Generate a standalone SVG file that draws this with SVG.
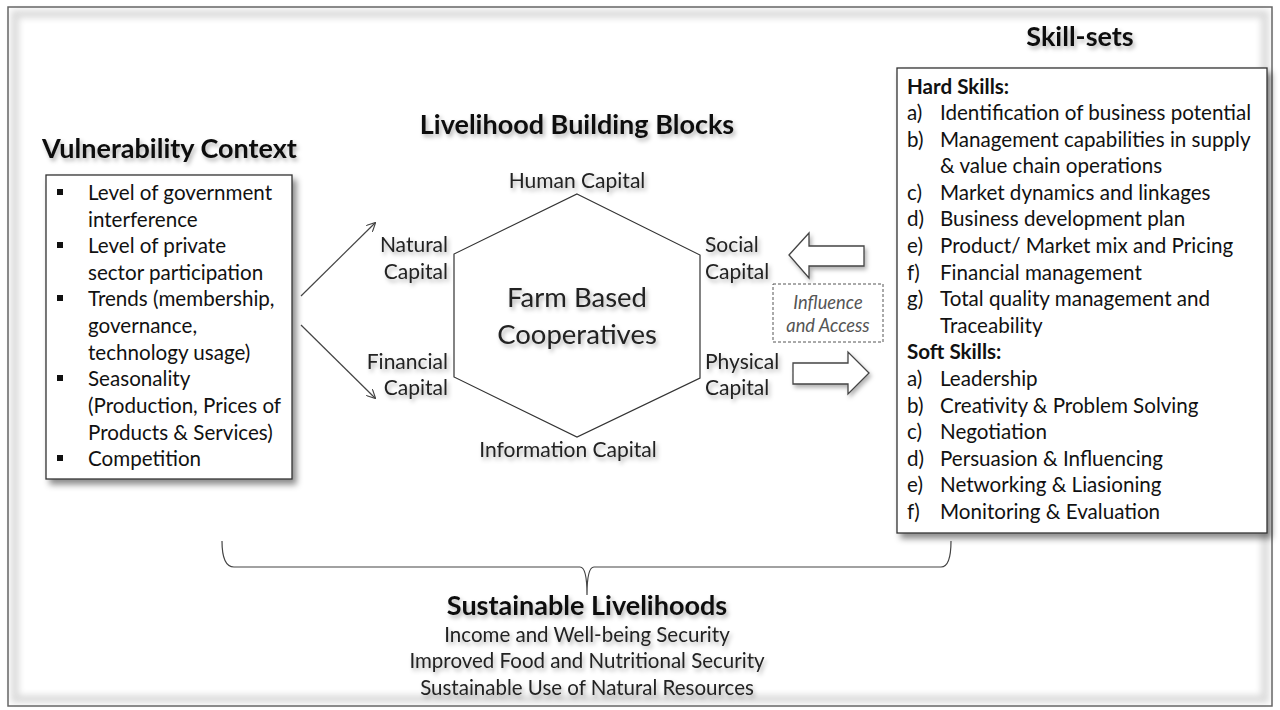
<svg xmlns="http://www.w3.org/2000/svg" width="1280" height="710" viewBox="0 0 1280 710">
  <defs>
    <style>
      text { font-family: Lato, "Open Sans", "Liberation Sans", sans-serif; fill: #111; }
      .title { font-weight: bold; font-size: 27px; }
      .body { font-size: 20.6px; }
      .hex { font-size: 21px; fill: #222; }
      .center { font-size: 27.5px; fill: #222; }
      .note { font-size: 18.3px; font-style: italic; fill: #555; }
      .out { font-size: 20.5px; fill: #222; }
      .box { fill: #fff; stroke: #333; stroke-width: 1.3; }
      .line { fill: none; stroke: #444; stroke-width: 1.2; }
      .blk { fill: #fff; stroke: #444; stroke-width: 1.3; }
    </style>
    <filter id="tshadow" x="-10%" y="-30%" width="130%" height="180%">
      <feDropShadow dx="2" dy="3" stdDeviation="2" flood-color="#000" flood-opacity="0.3"/>
    </filter>
    <filter id="bshadow" x="-10%" y="-10%" width="130%" height="130%">
      <feDropShadow dx="4" dy="5" stdDeviation="3" flood-color="#000" flood-opacity="0.45"/>
    </filter>
    <filter id="haze" x="-5%" y="-5%" width="110%" height="110%">
      <feGaussianBlur stdDeviation="3"/>
    </filter>
    <marker id="vee" viewBox="0 0 10 10" refX="9" refY="5" markerWidth="9" markerHeight="9" orient="auto" markerUnits="userSpaceOnUse">
      <path d="M0,0 L10,5 L0,10" fill="none" stroke="#444" stroke-width="1.3"/>
    </marker>
  </defs>

  <!-- page and frame -->
  <rect x="0" y="0" width="1280" height="710" fill="#fff"/>
  <rect x="15" y="14" width="1250" height="685" fill="none" stroke="#dcdcdc" stroke-width="8" filter="url(#haze)"/>
  <rect x="8" y="7" width="1264" height="699" fill="none" stroke="#666" stroke-width="1.5"/>

  <!-- Vulnerability context -->
  <g id="vulnerability">
    <text class="title" x="42" y="158" filter="url(#tshadow)">Vulnerability Context</text>
    <rect class="box" x="46" y="175" width="246" height="304" filter="url(#bshadow)"/>
    <g>
      <rect x="57" y="189" width="6" height="6" fill="#111"/>
      <text class="body" x="88" y="200">Level of government</text>
      <text class="body" x="88" y="227">interference</text>
      <rect x="57" y="242" width="6" height="6" fill="#111"/>
      <text class="body" x="88" y="253">Level of private</text>
      <text class="body" x="88" y="280">sector participation</text>
      <rect x="57" y="295" width="6" height="6" fill="#111"/>
      <text class="body" x="88" y="306">Trends (membership,</text>
      <text class="body" x="88" y="333">governance,</text>
      <text class="body" x="88" y="360">technology usage)</text>
      <rect x="57" y="375" width="6" height="6" fill="#111"/>
      <text class="body" x="88" y="386">Seasonality</text>
      <text class="body" x="88" y="413">(Production, Prices of</text>
      <text class="body" x="88" y="440">Products &amp; Services)</text>
      <rect x="57" y="455" width="6" height="6" fill="#111"/>
      <text class="body" x="88" y="466">Competition</text>
    </g>
  </g>

  <!-- Livelihood building blocks -->
  <g id="building-blocks">
    <text class="title" x="577" y="134" text-anchor="middle" filter="url(#tshadow)">Livelihood Building Blocks</text>
    <polygon points="577,194 700,255 700,378 577,437 454,377 454,254" fill="none" stroke="#333" stroke-width="1.2"/>
    <g filter="url(#tshadow)">
      <text class="hex" x="577" y="188" text-anchor="middle">Human Capital</text>
      <text class="hex" x="448" y="252" text-anchor="end">Natural</text>
      <text class="hex" x="448" y="279" text-anchor="end">Capital</text>
      <text class="hex" x="448" y="369" text-anchor="end">Financial</text>
      <text class="hex" x="448" y="395" text-anchor="end">Capital</text>
      <text class="hex" x="705" y="252">Social</text>
      <text class="hex" x="705" y="279">Capital</text>
      <text class="hex" x="705" y="369">Physical</text>
      <text class="hex" x="705" y="395">Capital</text>
      <text class="hex" x="568" y="457" text-anchor="middle">Information Capital</text>
      <text class="center" x="577" y="307" text-anchor="middle">Farm Based</text>
      <text class="center" x="577" y="344" text-anchor="middle">Cooperatives</text>
    </g>
  </g>

  <!-- Influence and access -->
  <g id="influence">
    <rect x="773" y="284" width="110" height="58" fill="#fff" stroke="#555" stroke-width="1" stroke-dasharray="3,2"/>
    <text class="note" x="828" y="309" text-anchor="middle">Influence</text>
    <text class="note" x="828" y="332" text-anchor="middle">and Access</text>
  </g>

  <!-- Skill-sets -->
  <g id="skill-sets">
    <text class="title" x="1080" y="46" text-anchor="middle" filter="url(#tshadow)">Skill-sets</text>
    <rect class="box" x="897" y="68" width="370" height="465" filter="url(#bshadow)"/>
    <text class="body" x="907" y="94" font-weight="bold">Hard Skills:</text>
    <text class="body" x="907" y="120">a)</text><text class="body" x="940" y="120">Identification of business potential</text>
    <text class="body" x="907" y="147">b)</text><text class="body" x="940" y="147">Management capabilities in supply</text>
    <text class="body" x="940" y="173">&amp; value chain operations</text>
    <text class="body" x="907" y="200">c)</text><text class="body" x="940" y="200">Market dynamics and linkages</text>
    <text class="body" x="907" y="226">d)</text><text class="body" x="940" y="226">Business development plan</text>
    <text class="body" x="907" y="253">e)</text><text class="body" x="940" y="253">Product/ Market mix and Pricing</text>
    <text class="body" x="907" y="280">f)</text><text class="body" x="940" y="280">Financial management</text>
    <text class="body" x="907" y="306">g)</text><text class="body" x="940" y="306">Total quality management and</text>
    <text class="body" x="940" y="333">Traceability</text>
    <text class="body" x="907" y="359" font-weight="bold">Soft Skills:</text>
    <text class="body" x="907" y="386">a)</text><text class="body" x="940" y="386">Leadership</text>
    <text class="body" x="907" y="413">b)</text><text class="body" x="940" y="413">Creativity &amp; Problem Solving</text>
    <text class="body" x="907" y="439">c)</text><text class="body" x="940" y="439">Negotiation</text>
    <text class="body" x="907" y="466">d)</text><text class="body" x="940" y="466">Persuasion &amp; Influencing</text>
    <text class="body" x="907" y="492">e)</text><text class="body" x="940" y="492">Networking &amp; Liasioning</text>
    <text class="body" x="907" y="519">f)</text><text class="body" x="940" y="519">Monitoring &amp; Evaluation</text>
  </g>

  <!-- Sustainable livelihoods -->
  <g id="sustainable-livelihoods">
    <text class="title" x="587" y="615" text-anchor="middle" font-size="29" filter="url(#tshadow)">Sustainable Livelihoods</text>
    <g filter="url(#tshadow)">
      <text class="out" x="587" y="642" text-anchor="middle">Income and Well-being Security</text>
      <text class="out" x="587" y="668" text-anchor="middle">Improved Food and Nutritional Security</text>
      <text class="out" x="587" y="695" text-anchor="middle">Sustainable Use of Natural Resources</text>
    </g>
  </g>

  <!-- connectors -->
  <g id="connectors">
    <line class="line" x1="301" y1="296" x2="375" y2="223" marker-end="url(#vee)"/>
    <line class="line" x1="301" y1="325" x2="375" y2="398" marker-end="url(#vee)"/>
    <polygon class="blk" points="789,255 809,233 809,246 864,246 864,266 809,266 809,278" filter="url(#tshadow)"/>
    <polygon class="blk" points="793,363 848,363 848,352 869,373 848,394 848,384 793,384" filter="url(#tshadow)"/>
    <path class="line" d="M222,541 Q222,567 234,567 L580,567 Q587,567 587,595 Q587,567 594,567 L941,567 Q951,567 951,541"/>
  </g>
</svg>
